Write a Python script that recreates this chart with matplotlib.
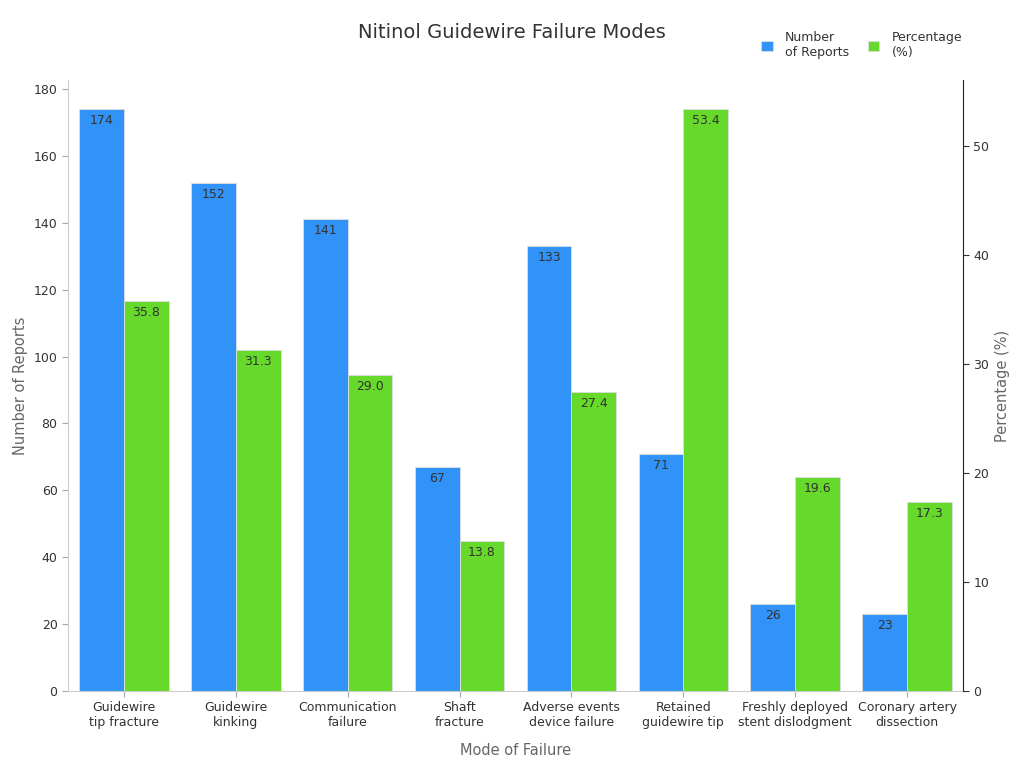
import numpy as np
import matplotlib.pyplot as plt

categories = ["Guidewire\ntip fracture", "Guidewire\nkinking", "Communication\nfailure",
              "Shaft\nfracture", "Adverse events\ndevice failure", "Retained\nguidewire tip",
              "Freshly deployed\nstent dislodgment", "Coronary artery\ndissection"]
reports = [174, 152, 141, 67, 133, 71, 26, 23]
percent = [35.8, 31.3, 29.0, 13.8, 27.4, 53.4, 19.6, 17.3]

blue = "#3192f7"
green = "#66d92a"
txt = "#333333"
grey = "#666666"

plt.rcParams.update({"font.family": "DejaVu Sans", "font.size": 9})

fig = plt.figure(figsize=(10.24, 7.68), dpi=100)
ax = fig.add_axes([68/1024, 1-691/768, (963-68)/1024, (691-80)/768])
ax2 = ax.twinx()

x = np.arange(len(categories))
w = 0.4
b1 = ax.bar(x - w/2, reports, w, color=blue, edgecolor="#dddddd", linewidth=0.6, label="Number\nof Reports")
b2 = ax2.bar(x + w/2, percent, w, color=green, edgecolor="#dddddd", linewidth=0.6, label="Percentage\n(%)")

for r, v in zip(b1, reports):
    ax.text(r.get_x() + r.get_width()/2, v - 1.5, f"{v}", ha="center", va="top", color=txt, fontsize=9)
for r, v in zip(b2, percent):
    ax2.text(r.get_x() + r.get_width()/2, v - 0.45, f"{v:.1f}", ha="center", va="top", color=txt, fontsize=9)

ax.set_xlim(-0.5, len(categories) - 0.5)
ax.set_ylim(0, max(reports) * 1.05)
ax2.set_ylim(0, max(percent) * 1.05)
ax.set_yticks(range(0, 181, 20))
ax2.set_yticks(range(0, 51, 10))
ax.set_xticks(x)
ax.set_xticklabels(categories)

for a in (ax, ax2):
    a.spines["top"].set_visible(False)
    a.tick_params(colors=txt, labelsize=9, length=4)
ax.spines["right"].set_visible(False)
ax.spines["left"].set_color("#cccccc")
ax.spines["bottom"].set_color("#cccccc")
ax.tick_params(axis="both", color="#aaaaaa")
ax2.spines["left"].set_visible(False)
ax2.spines["bottom"].set_visible(False)
ax2.spines["right"].set_color("#222222")

ax.set_ylabel("Number of Reports", color=grey, fontsize=10.5)
ax2.set_ylabel("Percentage (%)", color=grey, fontsize=10.5)
ax.set_xlabel("Mode of Failure", color=grey, fontsize=10.5, labelpad=10)

fig.text(512/1024, 1-33/768, "Nitinol Guidewire Failure Modes", ha="center", va="center",
         fontsize=14, color=txt)

handles = [b1, b2]
fig.legend(handles, [h.get_label() for h in handles], loc="center left",
           bbox_to_anchor=(750/1024, 1-45/768), ncol=2, frameon=False, fontsize=9,
           handlelength=0.9, handleheight=0.9, columnspacing=1.5, handletextpad=1.0,
           labelcolor=txt)

fig.savefig("out.png", dpi=100)
